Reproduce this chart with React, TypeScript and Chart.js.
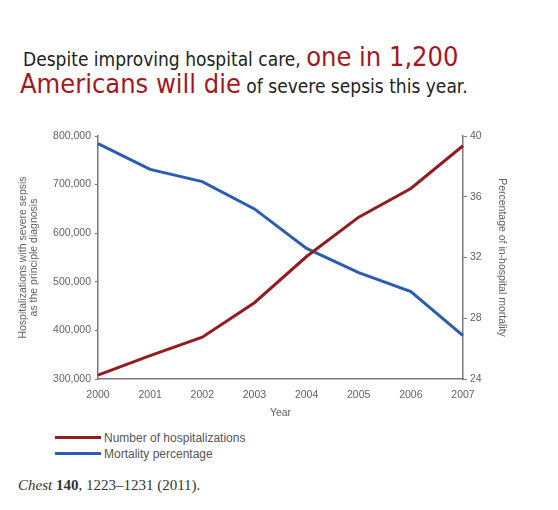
import React, { useEffect, useRef } from "react";
import { Chart, registerables } from "chart.js";

Chart.register(...registerables);

const years = ["2000", "2001", "2002", "2003", "2004", "2005", "2006", "2007"];
const hospitalizations = [308000, 348000, 386000, 457000, 552000, 633000, 692000, 780000];
const mortality = [39.5, 37.8, 37.0, 35.2, 32.6, 31.0, 29.75, 26.85];
const leftTicks = { min: 300000, max: 800000, step: 100000 };
const rightTicks = { min: 24, max: 40, step: 4 };
const seriesNames = ["Number of hospitalizations", "Mortality percentage"];
const seriesColors = ["#921c20", "#2b5cb5"];

const RED = "#a3181f";
const DARK = "#222";
const TICK = "#626262";
const AXIS = "#7a7a7a";
const SANS = "'Liberation Sans', Arial, sans-serif";
const NARROW = "'DejaVu Sans Condensed', 'Liberation Sans', sans-serif";

export default function App() {
  const ref = useRef<HTMLCanvasElement | null>(null);

  useEffect(() => {
    if (!ref.current) return;
    const tickFont = { family: SANS, size: 10.5, lineHeight: 1 };
    const chart = new Chart(ref.current, {
      type: "line",
      data: {
        labels: years,
        datasets: [
          {
            label: seriesNames[0],
            data: hospitalizations,
            borderColor: seriesColors[0],
            backgroundColor: seriesColors[0],
            borderWidth: 3,
            pointRadius: 0,
            tension: 0,
            yAxisID: "y",
          },
          {
            label: seriesNames[1],
            data: mortality,
            borderColor: seriesColors[1],
            backgroundColor: seriesColors[1],
            borderWidth: 3,
            pointRadius: 0,
            tension: 0,
            yAxisID: "y1",
          },
        ],
      },
      options: {
        animation: false,
        responsive: false,
        maintainAspectRatio: false,
        layout: { padding: { top: 26, left: 0, right: 0, bottom: 0 } },
        plugins: { legend: { display: false }, tooltip: { enabled: false } },
        scales: {
          x: {
            type: "category",
            offset: false,
            grid: { display: false, drawTicks: false },
            border: { display: true, color: AXIS, width: 1.5 },
            ticks: { color: TICK, font: tickFont, padding: 11, maxRotation: 0 },
            title: {
              display: true,
              text: "Year",
              color: TICK,
              font: tickFont,
              padding: { top: 0, bottom: 12 },
            },
            afterFit: (s: any) => {
              s.height = 51;
            },
          },
          y: {
            position: "left",
            min: leftTicks.min,
            max: leftTicks.max,
            grid: { drawOnChartArea: false, drawTicks: true, tickLength: 3, color: AXIS },
            border: { display: true, color: AXIS, width: 1.5 },
            ticks: {
              stepSize: leftTicks.step,
              color: TICK,
              font: tickFont,
              padding: 4,
              callback: (v: any) => Number(v).toLocaleString("en-US"),
            },
            title: {
              display: true,
              text: ["Hospitalizations with severe sepsis", "as the principle diagnosis"],
              color: TICK,
              font: tickFont,
              padding: { top: 18, bottom: 0 },
            },
            afterFit: (s: any) => {
              s.width = 98;
            },
          },
          y1: {
            position: "right",
            min: rightTicks.min,
            max: rightTicks.max,
            grid: { drawOnChartArea: false, drawTicks: true, tickLength: 4, color: AXIS },
            border: { display: true, color: AXIS, width: 1.5 },
            ticks: { stepSize: rightTicks.step, color: TICK, font: tickFont, padding: 3 },
            title: {
              display: true,
              text: "Percentage of in-hospital mortality",
              color: TICK,
              font: tickFont,
              padding: { top: 51, bottom: 0 },
            },
            afterFit: (s: any) => {
              s.width = 95;
            },
          },
        },
      },
    });
    return () => chart.destroy();
  }, []);

  return (
    <div style={{ position: "absolute", left: 0, top: 0, width: 558, height: 510, background: "#fff", overflow: "hidden" }}>
      <div style={{ position: "absolute", left: 23, top: 42, whiteSpace: "nowrap", fontFamily: NARROW, color: DARK, lineHeight: "30px" }}>
        <span style={{ fontSize: 19 }}>Despite improving hospital care, </span>
        <span style={{ fontSize: 27, color: RED }}>one in 1,200</span>
      </div>
      <div style={{ position: "absolute", left: 20, top: 69, whiteSpace: "nowrap", fontFamily: NARROW, color: DARK, lineHeight: "30px" }}>
        <span style={{ fontSize: 27, color: RED }}>Americans will die</span>
        <span style={{ fontSize: 19 }}> of severe sepsis this year.</span>
      </div>
      <canvas ref={ref} width={558} height={320} style={{ position: "absolute", left: 0, top: 110, width: 558, height: 320 }} />
      {seriesNames.map((name, i) => (
        <div key={name} style={{ position: "absolute", left: 55, top: 430 + i * 16, height: 15, display: "flex", alignItems: "center", fontFamily: SANS, fontSize: 12, color: "#555", whiteSpace: "nowrap" }}>
          <span style={{ display: "inline-block", width: 46, height: 3, background: seriesColors[i], marginRight: 3 }} />
          <span>{name}</span>
        </div>
      ))}
      <div style={{ position: "absolute", left: 18, top: 477, fontFamily: "'Liberation Serif', 'Times New Roman', serif", fontSize: 15, color: "#333", whiteSpace: "nowrap" }}>
        <i>Chest</i> <b>140</b>, 1223–1231 (2011).
      </div>
    </div>
  );
}
